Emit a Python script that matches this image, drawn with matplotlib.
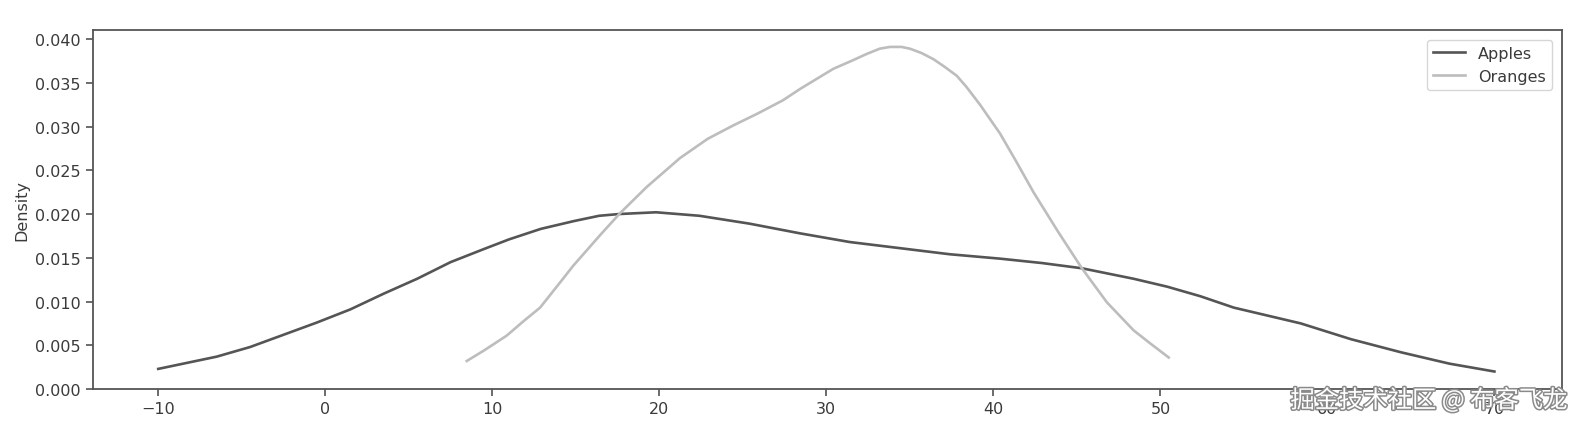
import matplotlib.pyplot as plt
import matplotlib.patheffects as pe

# Courbes de densite (x, densite)
apples_x = [-10.0, -8.0, -6.5, -4.5, -2.5, -0.5, 1.5, 3.5, 5.5, 7.5, 9.5, 11.0, 12.9, 14.9,
            16.4, 17.6, 19.8, 22.4, 25.4, 28.4, 31.4, 34.4, 37.4, 40.4, 42.9, 45.3, 48.4,
            50.4, 52.4, 54.4, 56.4, 58.4, 61.4, 64.4, 67.3, 70.0]
apples_y = [0.0023, 0.0031, 0.0037, 0.0048, 0.0062, 0.0076, 0.0091, 0.0109, 0.0126, 0.0145,
            0.0160, 0.0171, 0.0183, 0.0192, 0.0198, 0.0200, 0.0202, 0.0198, 0.0189, 0.0178,
            0.0168, 0.0161, 0.0154, 0.0149, 0.0144, 0.0138, 0.0126, 0.0117, 0.0106, 0.0093,
            0.0084, 0.0075, 0.0057, 0.0042, 0.0029, 0.0020]

oranges_x = [8.47, 9.5, 10.86, 11.9, 12.86, 13.9, 14.85, 16.46, 17.65, 19.25, 21.24, 22.9,
             24.4, 25.9, 27.4, 28.43, 30.42, 31.5, 32.42, 33.2, 33.81, 34.5, 35.0, 35.7,
             36.41, 37.1, 37.81, 38.4, 39.2, 40.4, 41.4, 42.4, 43.9, 45.3, 46.8, 48.4,
             49.4, 50.5]
oranges_y = [0.0032, 0.0044, 0.0061, 0.0078, 0.0093, 0.0118, 0.0141, 0.0176, 0.0201, 0.0231,
             0.0264, 0.0286, 0.0301, 0.0315, 0.0330, 0.0343, 0.0366, 0.0375, 0.0383, 0.0389,
             0.0391, 0.0391, 0.0389, 0.0384, 0.0377, 0.0368, 0.0358, 0.0345, 0.0325, 0.0292,
             0.0259, 0.0225, 0.0179, 0.0138, 0.0099, 0.0067, 0.0052, 0.0036]

labels = ['Apples', 'Oranges']
xticks = [-10, 0, 10, 20, 30, 40, 50, 60, 70]
yticks = [0.000, 0.005, 0.010, 0.015, 0.020, 0.025, 0.030, 0.035, 0.040]

fs = 11.5
txt = '#3a3a3a'

fig = plt.figure(figsize=(15.86, 4.31), dpi=100)
ax = fig.add_axes([0.0584, 0.0951, 0.9263, 0.8329])

ax.plot(apples_x, apples_y, color='#555555', lw=1.9, label=labels[0])
ax.plot(oranges_x, oranges_y, color='#bdbdbd', lw=1.9, label=labels[1])

ax.set_xlim(-13.93, 74.03)
ax.set_ylim(0, 0.04103)
ax.set_xticks(xticks)
ax.set_yticks(yticks)
ax.set_yticklabels(['%.3f' % v for v in yticks])
ax.tick_params(labelsize=fs, colors='#444444', labelcolor=txt, length=5, width=1.1)
ax.set_ylabel('Density', fontsize=fs, color=txt)
for s in ax.spines.values():
    s.set_color('#555555')
    s.set_linewidth(1.3)

leg = ax.legend(loc='upper right', fontsize=fs, frameon=True, borderaxespad=0.6)
for t in leg.get_texts():
    t.set_color(txt)

# filigrane
fig.text(0.988, 0.068, '掘金技术社区 @ 布客飞龙', ha='right', va='center', fontsize=17.5,
         family=['Noto Sans CJK SC', 'DejaVu Sans'], color='white',
         path_effects=[pe.withStroke(linewidth=2.2, foreground='#8a8a8a')])

fig.savefig('out.png', dpi=100)
